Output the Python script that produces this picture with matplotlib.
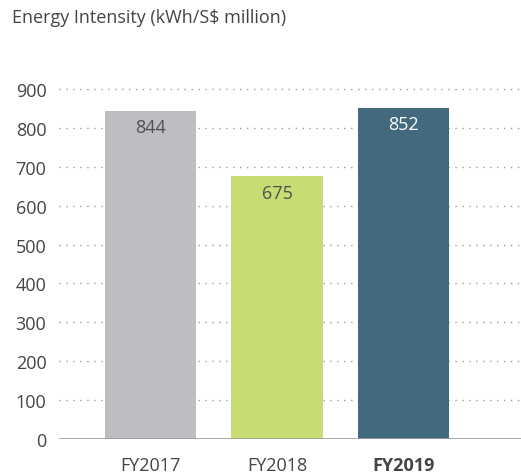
import numpy as np
import matplotlib.pyplot as plt

plt.rcParams['font.family'] = ['Open Sans', 'DejaVu Sans']

years = ['FY2017', 'FY2018', 'FY2019']
intensity = [844, 675, 852]
colors = ['#BDBEC1', '#C8DC74', '#43697E']
label_colors = ['#505050', '#505050', '#FFFFFF']
yticks = [0, 100, 200, 300, 400, 500, 600, 700, 800, 900]

fig = plt.figure(figsize=(5.21, 4.77), dpi=100)
ax = fig.add_axes([0.1132, 0.0776, 0.8868, 0.7338])

x = np.arange(len(years))
ax.bar(x, intensity, width=0.72, color=colors, zorder=2)

# value labels sit just inside the top of each bar
for xi, v, c in zip(x, intensity, label_colors):
    ax.annotate(str(v), (xi, v), xytext=(0, -12), textcoords='offset points',
                ha='center', va='center', fontsize=13, color=c, zorder=3)

for t in yticks[1:]:
    ax.axhline(t, color='#9a9a9a', linewidth=1, linestyle=(0, (1, 4)), zorder=1, clip_on=False)
ax.axhline(0, color='#9a9a9a', linewidth=1.2, zorder=3)

ax.set_xlim(-0.723, 2.929)
ax.set_ylim(0, 900)
ax.set_yticks(yticks)
ax.set_yticklabels([str(t) for t in yticks])
ax.set_xticks(x)
ax.set_xticklabels(years)
for lbl in ax.get_xticklabels():
    if lbl.get_text() == 'FY2019':
        lbl.set_fontweight('bold')
ax.tick_params(axis='both', length=0, labelsize=13, colors='#444444')
ax.tick_params(axis='y', pad=9)
ax.tick_params(axis='x', pad=12)
for s in ax.spines.values():
    s.set_visible(False)

fig.text(12 / 521, 1 - 18 / 477, 'Energy Intensity (kWh/S$ million)', ha='left', va='center',
         fontsize=13, color='#444444')

fig.savefig('out.png', dpi=100)
